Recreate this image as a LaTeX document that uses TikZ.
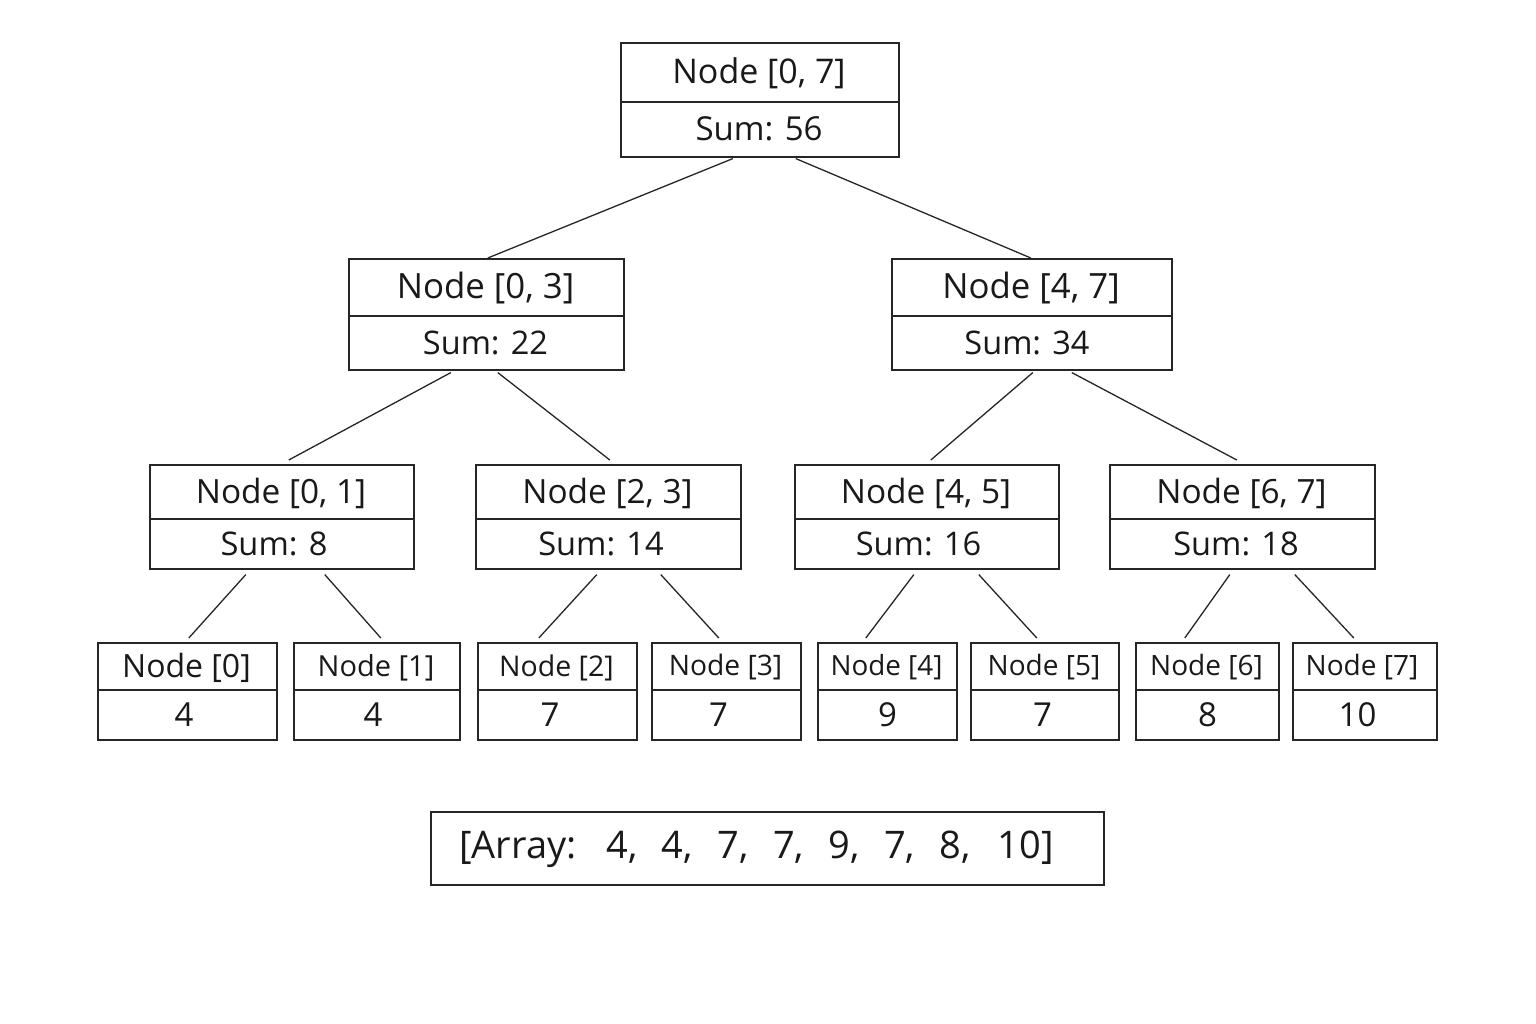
\documentclass[tikz,border=0pt]{standalone}
\usepackage{fontspec}
\setmainfont{Open Sans}
\newcommand\fsz[1]{\fontsize{#1}{#1}\selectfont}
\tikzset{
  boxline/.style={draw=black!85, line width=1.6pt},
  conn/.style={draw=black!85, line width=1.3pt},
  txt/.style={inner sep=0pt, text=black!90}
}
% name, x1, y1, x2, y2, ydiv, top text, bottom text, bottom x-offset
\newcommand\tbox[9]{%
  \node[boxline, inner sep=0pt, anchor=north west,
        minimum width={(#4-#2)*1pt}, minimum height={(#5-#3)*1pt}] (#1) at (#2,#3) {};
  \draw[boxline] (#2,#6) -- (#4,#6);
  \node[txt, yshift=-1.5pt] at ({(#2+#4)/2},{(#3+#6)/2}) {#7};
  \node[txt] at ({(#2+#4)/2+#9},{(#6+#5)/2}) {#8};
}
\begin{document}
\begin{tikzpicture}[x=1pt,y=-1pt]
\useasboundingbox[fill=white] (0,0) rectangle (1536,1024);
% root
\tbox{r}{620}{42}{898}{156}{102}{\fsz{34}Node [0, 7]}{\fsz{33}Sum: 56}{0}
% level 1
\tbox{a}{348}{258}{623}{369}{316}{\fsz{34.8}Node [0, 3]}{\fsz{32.5}Sum: 22}{0}
\tbox{b}{891}{258}{1171}{369}{316}{\fsz{34.8}Node [4, 7]}{\fsz{32.5}Sum: 34}{-4}
% level 2
\tbox{c}{149}{464}{413}{568}{519}{\fsz{33.4}Node [0, 1]}{\fsz{32.6}Sum: 8}{-7}
\tbox{d}{475}{464}{740}{568}{519}{\fsz{33.4}Node [2, 3]}{\fsz{32.6}Sum: 14}{-6.5}
\tbox{e}{794}{464}{1058}{568}{519}{\fsz{33.4}Node [4, 5]}{\fsz{32.6}Sum: 16}{-7.5}
\tbox{f}{1109}{464}{1374}{568}{519}{\fsz{33.4}Node [6, 7]}{\fsz{32.6}Sum: 18}{-5.5}
% leaves
\tbox{l0}{97}{642}{276}{739}{690}{\fsz{32}Node [0]}{\fsz{33}4}{-2.5}
\tbox{l1}{293}{642}{459}{739}{690}{\fsz{29}Node [1]}{\fsz{33}4}{-3}
\tbox{l2}{477}{642}{636}{739}{690}{\fsz{28.5}Node [2]}{\fsz{33}7}{-6.5}
\tbox{l3}{651}{642}{800}{739}{690}{\fsz{28.2}Node [3]}{\fsz{33}7}{-7}
\tbox{l4}{817}{642}{956}{739}{690}{\fsz{27.8}Node [4]}{\fsz{33}9}{1}
\tbox{l5}{970}{642}{1118}{739}{690}{\fsz{28}Node [5]}{\fsz{33}7}{-1.5}
\tbox{l6}{1135}{642}{1278}{739}{690}{\fsz{28}Node [6]}{\fsz{33}8}{1}
\tbox{l7}{1292}{642}{1436}{739}{690}{\fsz{28}\hspace*{-4pt}Node [7]}{\fsz{33}10}{-6.5}
% connectors
\draw[conn] ([xshift=-27pt,yshift=-1pt]r.south) -- ([xshift=1.5pt]a.north);
\draw[conn] ([xshift=36pt,yshift=-1pt]r.south) -- ([xshift=-1pt]b.north);
\draw[conn] ([xshift=-35.5pt,yshift=-2pt]a.south) -- ([xshift=7pt,yshift=4pt]c.north);
\draw[conn] ([xshift=11.5pt,yshift=-2pt]a.south) -- ([xshift=1.5pt,yshift=4pt]d.north);
\draw[conn] ([xshift=1pt,yshift=-2pt]b.south) -- ([xshift=4pt,yshift=4pt]e.north);
\draw[conn] ([xshift=40pt,yshift=-2pt]b.south) -- ([xshift=-5.5pt,yshift=4pt]f.north);
\draw[conn] ([xshift=-36pt,yshift=-5pt]c.south) -- ([xshift=1.5pt,yshift=4pt]l0.north);
\draw[conn] ([xshift=43pt,yshift=-5pt]c.south) -- ([xshift=4pt,yshift=4pt]l1.north);
\draw[conn] ([xshift=-11.5pt,yshift=-5pt]d.south) -- ([xshift=-18.5pt,yshift=4pt]l2.north);
\draw[conn] ([xshift=52.5pt,yshift=-5pt]d.south) -- ([xshift=-7.5pt,yshift=4pt]l3.north);
\draw[conn] ([xshift=-13pt,yshift=-5pt]e.south) -- ([xshift=-21.5pt,yshift=4pt]l4.north);
\draw[conn] ([xshift=52pt,yshift=-5pt]e.south) -- ([xshift=-8pt,yshift=4pt]l5.north);
\draw[conn] ([xshift=-12.5pt,yshift=-5pt]f.south) -- ([xshift=-22.5pt,yshift=4pt]l6.north);
\draw[conn] ([xshift=52.5pt,yshift=-5pt]f.south) -- ([xshift=-11pt,yshift=4pt]l7.north);
% array
\node[boxline, inner sep=0pt, anchor=north west, minimum width=673pt, minimum height=73pt] (arr) at (430,811) {};
\node[txt, anchor=west] (arrt) at (459,849) {\fsz{38}[Array:\hspace{30pt}4,\hspace{24.5pt}4,\hspace{24.5pt}7,\hspace{24.5pt}7,\hspace{24.5pt}9,\hspace{24.5pt}7,\hspace{24.5pt}8,\hspace{27pt}10]};
\end{tikzpicture}
\end{document}
